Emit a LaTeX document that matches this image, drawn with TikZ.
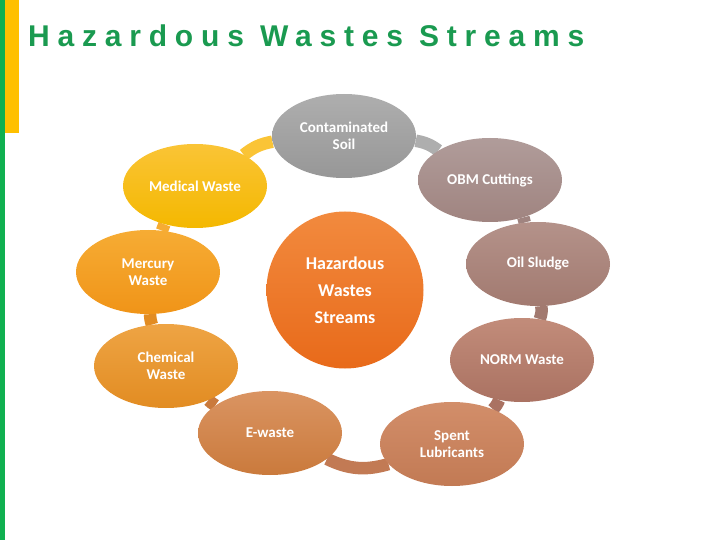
\documentclass[tikz,border=0pt]{standalone}
\usepackage{fontspec}
\setmainfont{Carlito}
\newfontfamily\titlefont[LetterSpace=26]{Liberation Sans}
\usetikzlibrary{shapes.geometric,backgrounds}

\definecolor{barGreen}{HTML}{10B050}
\definecolor{barYellow}{HTML}{FFC000}
\definecolor{titleGreen}{HTML}{1A9A50}
\definecolor{soilT}{HTML}{AEAEAE}
\definecolor{soilB}{HTML}{979797}
\definecolor{obmT}{HTML}{B09C9A}
\definecolor{obmB}{HTML}{A08480}
\definecolor{oilT}{HTML}{B4928A}
\definecolor{oilB}{HTML}{A27A70}
\definecolor{normT}{HTML}{C28C7A}
\definecolor{normB}{HTML}{AA7262}
\definecolor{spentT}{HTML}{D28E6A}
\definecolor{spentB}{HTML}{C27A54}
\definecolor{ewT}{HTML}{DA9462}
\definecolor{ewB}{HTML}{CA7A3C}
\definecolor{chemT}{HTML}{EEA444}
\definecolor{chemB}{HTML}{E28C22}
\definecolor{mercT}{HTML}{F6AC34}
\definecolor{mercB}{HTML}{F09418}
\definecolor{medT}{HTML}{FAC436}
\definecolor{medB}{HTML}{F4B800}
\definecolor{hubT}{HTML}{F28A3E}
\definecolor{hubB}{HTML}{E86A1A}

\begin{document}
\begin{tikzpicture}[x=1pt,y=-1pt]
\tikzstyle{every node}+=[inner sep=0pt]
\tikzstyle{waste}=[ellipse, minimum width=144pt, minimum height=84pt, text=white, align=center, font=\bfseries\fontsize{15}{17}\selectfont]
\tikzstyle{band}=[line width=12.5pt]
\useasboundingbox (0,0) rectangle (720,540);
\fill [barGreen] (0,0) rectangle (4.5,540);
\fill [barYellow] (4.5,0) rectangle (19,133);
\node [anchor=base west, text=titleGreen, font=\titlefont\bfseries\fontsize{30}{30}\selectfont] (title) at (28,47) {Hazardous Wastes Streams};
% ring of waste streams
\node [waste, top color=soilT, bottom color=soilB] (soil) at (344,136) {Contaminated\\Soil};
\node [waste, top color=obmT, bottom color=obmB] (obm) at (490,180) {OBM Cuttings};
\node [waste, top color=oilT, bottom color=oilB] (oil) at (538,264) {Oil Sludge};
\node [waste, top color=normT, bottom color=normB] (norm) at (522,360) {NORM Waste};
\node [waste, top color=spentT, bottom color=spentB] (spent) at (452,444) {Spent\\Lubricants};
\node [waste, top color=ewT, bottom color=ewB] (ewaste) at (270,433) {E-waste};
\node [waste, top color=chemT, bottom color=chemB] (chem) at (166,366) {Chemical\\Waste};
\node [waste, top color=mercT, bottom color=mercB] (merc) at (148,272) {Mercury\\Waste};
\node [waste, top color=medT, bottom color=medB] (med) at (195,186) {Medical Waste};
% centre
\node [circle, minimum size=157pt, top color=hubT, bottom color=hubB, text=white, align=center, font=\bfseries\fontsize{18}{27}\selectfont] (hub) at (345,290) {Hazardous\\Wastes\\Streams};
\begin{pgfonlayer}{background}
\draw [band, medT] (med) to[bend left=14] (soil);
\draw [band, soilT] (soil) to[bend left=13] (obm);
\draw [band, obmB] (obm) to[bend left=12] (oil);
\draw [band, oilB] (oil) to[bend left=14] (norm);
\draw [band, normB] (norm) to[bend left=10] (spent);
\draw [band, spentB] (spent) to[bend left=21] (ewaste);
\draw [band, ewB] (ewaste) to[bend left=6] (chem);
\draw [band, chemB] (chem) to[bend left=8] (merc);
\draw [band, mercT] (merc) to[bend left=10] (med);
\end{pgfonlayer}
\end{tikzpicture}
\end{document}
